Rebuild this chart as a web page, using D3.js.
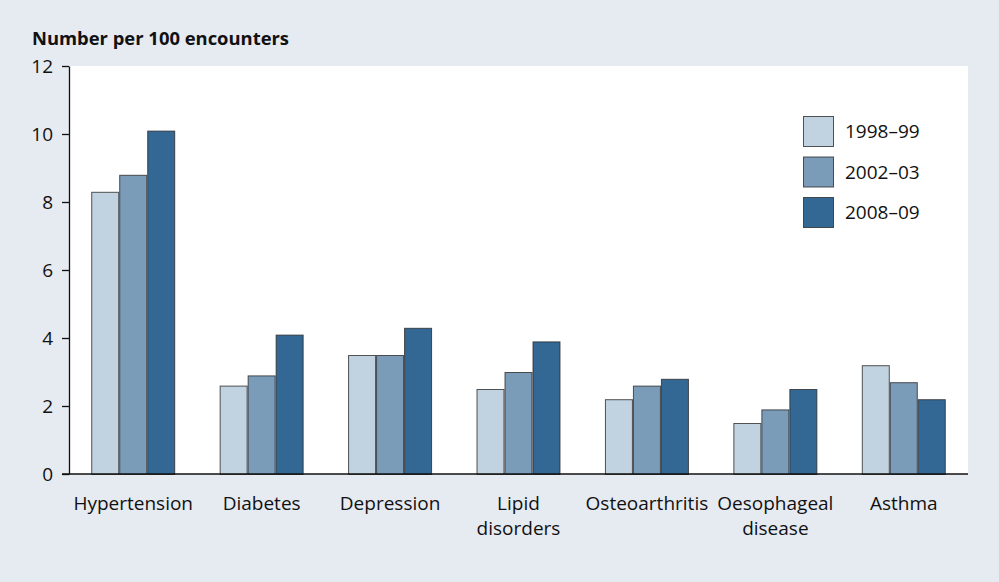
<!DOCTYPE html>
<html>
<head>
<meta charset="utf-8">
<script src="https://cdn.jsdelivr.net/npm/d3@7"></script>
<style>
  html, body { margin: 0; padding: 0; background: #e6eaf1; }
  svg { display: block; font-family: "Open Sans", "Noto Sans", sans-serif; }
</style>
</head>
<body>
<svg id="chart" width="999" height="582"></svg>
<script>
// Conditions managed per 100 encounters, three survey periods
const categories = [["Hypertension"], ["Diabetes"], ["Depression"], ["Lipid", "disorders"],
                    ["Osteoarthritis"], ["Oesophageal", "disease"], ["Asthma"]];
const periods = ["1998\u201399", "2002\u201303", "2008\u201309"];
const values1998 = [8.3, 2.6, 3.5, 2.5, 2.2, 1.5, 3.2];
const values2002 = [8.8, 2.9, 3.5, 3.0, 2.6, 1.9, 2.7];
const values2008 = [10.1, 4.1, 4.3, 3.9, 2.8, 2.5, 2.2];
const yTicks = [0, 2, 4, 6, 8, 10, 12];
const colors = ["#c1d2e0", "#7a9cb9", "#336895"];

const series = [values1998, values2002, values2008];
const svg = d3.select("#chart");
const W = 999, H = 582;
const m = { left: 69, right: 31, top: 66, bottom: 108 };
const innerW = W - m.left - m.right, innerH = H - m.top - m.bottom;
const fontSize = 19;

svg.append("rect").attr("width", W).attr("height", H).attr("fill", "#e6eaf1");

const g = svg.append("g").attr("transform", `translate(${m.left},${m.top})`);
g.append("rect").attr("width", innerW).attr("height", innerH).attr("fill", "#ffffff");

const x0 = d3.scaleBand().domain(d3.range(categories.length)).range([0, innerW]).padding(0);
const x1 = d3.scaleBand().domain(d3.range(periods.length)).range([0, 84]);
const y = d3.scaleLinear().domain([0, 12]).range([innerH, 0]);

// bars
const groups = g.selectAll("g.grp").data(categories).join("g")
  .attr("class", "grp")
  .attr("transform", (d, i) => `translate(${x0(i) + (x0.bandwidth() - 84) / 2},0)`);
groups.each(function (d, i) {
  d3.select(this).selectAll("rect").data(series.map(s => s[i])).join("rect")
    .attr("x", (v, j) => x1(j) + 0.5)
    .attr("y", v => y(v) + 0.5)
    .attr("width", x1.bandwidth() - 1)
    .attr("height", v => y(0) - y(v))
    .attr("fill", (v, j) => colors[j])
    .attr("stroke", "#2b2b2b")
    .attr("stroke-opacity", 0.8)
    .attr("stroke-width", 1);
});

// y axis
const yAxis = g.append("g").call(d3.axisLeft(y).tickValues(yTicks).tickSize(7).tickPadding(9).tickSizeOuter(0));
yAxis.select(".domain").attr("stroke", "#111").attr("stroke-width", 1.3);
yAxis.selectAll(".tick line").attr("stroke", "#111").attr("stroke-width", 1.3);
yAxis.selectAll(".tick text").attr("font-size", fontSize).attr("fill", "#111")
  .attr("font-family", "\"Open Sans\", \"Noto Sans\", sans-serif");

// baseline
g.append("line").attr("x1", -7).attr("x2", innerW).attr("y1", y(0)).attr("y2", y(0))
  .attr("stroke", "#111").attr("stroke-width", 1.5);

// category labels
const lab = g.append("g").selectAll("text").data(categories).join("text")
  .attr("x", (d, i) => x0(i) + x0.bandwidth() / 2)
  .attr("y", innerH + 36)
  .attr("text-anchor", "middle")
  .attr("font-size", fontSize)
  .attr("fill", "#111");
lab.selectAll("tspan").data(d => d).join("tspan")
  .attr("x", function () { return d3.select(this.parentNode).attr("x"); })
  .attr("dy", (d, k) => k === 0 ? 0 : 25)
  .text(d => d);

// title
svg.append("text").attr("x", 32).attr("y", 45)
  .attr("font-size", 18.4).attr("font-weight", "bold").attr("fill", "#111")
  .text("Number per 100 encounters");

// legend
const leg = svg.append("g").attr("transform", "translate(803,116)");
const li = leg.selectAll("g").data(periods).join("g")
  .attr("transform", (d, i) => `translate(0,${i * 40.5})`);
li.append("rect").attr("x", 0.5).attr("y", 0.5).attr("width", 30).attr("height", 30)
  .attr("fill", (d, i) => colors[i]).attr("stroke", "#2b2b2b").attr("stroke-opacity", 0.8);
li.append("text").attr("x", 42).attr("y", 22).attr("font-size", fontSize).attr("fill", "#111").text(d => d);
</script>
</body>
</html>
